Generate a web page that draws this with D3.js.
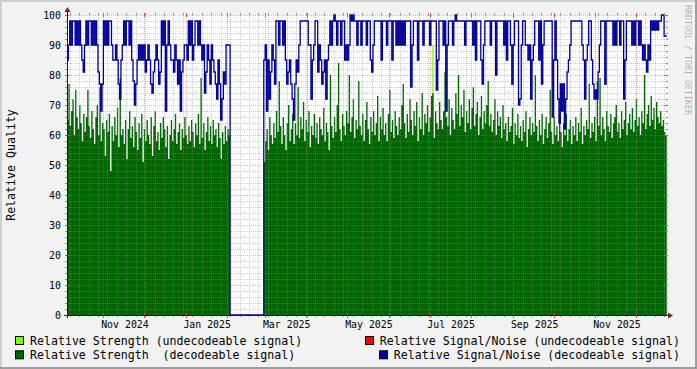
<!DOCTYPE html>
<html>
<head>
<meta charset="utf-8">
<script src="https://cdn.jsdelivr.net/npm/d3@7"></script>
<style>
  body { margin: 0; background: #f2f2f2; }
  svg { display: block; }
  text { font-family: "DejaVu Sans Mono", monospace; }
</style>
</head>
<body>
<svg id="chart" width="697" height="369"></svg>
<script>
// one sample per day, starting at startDay
const startDay = '2024-10-05'
const endTime = '2025-12-23T10:00'

// relative strength (decodeable signal), null = no data
const strength = [
  65,77,63,68,72,60,75,66,62,70, 64,58,67,61,66,75,63,59,68,62,
  57,66,70,60,76,58,64,62,53,65, 61,67,48,63,58,66,60,69,56,79,
  60,62,57,65,52,62,68,59,63,56, 66,61,55,64,59,67,51,62,58,65,
  60,57,66,53,63,68,58,61,55,64, 59,66,62,56,63,52,60,65,58,62,
  67,57,61,64,55,62,59,66,60,57, 63,58,65,61,56,64,60,67,57,79,
  59,64,55,61,66,58,63,57,65,60, 62,56,64,59,52,61,57,63,58,62,
  60,
  null,null,null,null,null,null,null,null,null,null,null,null,null,
  null,null,null,null,null,null,null,null,null,null,null,null,
  51,58,62,55,66,60,57,64,59,68, 61,78,63,57,66,60,55,64,70,58,
  62,67,57,64,60,76,59,66,62,71, 58,65,61,68,56,63,60,67,59,64,
  57,66,62,60,69,58,64,61,55,80, 63,59,66,61,70,84,62,58,67,63,
  60,68,64,80,61,66,72,59,65,62, 78,63,60,67,58,65,71,62,57,66,
  61,68,60,64,73,58,66,62,69,60, 64,58,67,75,61,65,59,68,63,60,
  66,62,70,77,64,59,67,61,72,65, 60,68,63,71,58,66,62,74,60,67,
  64,70,61,66,73,74,59,68,64,62, 71,65,62,68,81,66,63,72,60,69,
  65,62,74,67,80,63,70,66,75,61, 68,64,72,62,69,76,63,67,71,60,
  66,73,62,68,64,70,78,63,67,61, 65,72,60,68,63,66,59,70,62,64,
  58,66,61,63,69,57,64,60,67,59, 63,58,65,61,68,56,62,66,60,64,
  61,80,63,58,65,60,67,57,62,66, 59,64,75,61,57,66,60,63,58,65,
  61,56,64,60,67,58,62,65,57,63, 60,66,58,64,61,69,57,63,60,65,
  62,77,59,64,61,66,58,78,63,79, 60,66,62,58,68,63,61,67,59,64,
  66,70,61,64,59,68,62,65,71,60, 64,67,62,69,61,65,72,63,66,60,
  68,64,80,62,67,70,63,73,65,69, 62,71,66,64,68,63,65,61,60
]

// relative strength (undecodeable signal), only a few days
const undecodeableDays = [271]
const undecodeableValues = [90]

// relative signal/noise (decodeable signal)
const snr = [
  85, 90,98,90,98,98,90,98,90,98,
  90,85,81,90, 98,90,98,98,90,98,90,98,90,
  81,77,68,77, 98,90,98,90,98,98,90,
  85,85,90,85,77,72,85, 90,98,90,98,98,90,98,85,
  78,70,77,85,90,85, 90,85,90,81,85,90,85,
  77,74,81,85,90,85,77,81, 98,90,98,68,90,98,90,85,
  85,81,90,85,77,85,68,81,85,90, 90,85,98,90,98,85,90,98,98,90,98,
  90,85,90,74,81,90,85,77,90,85,81, 77,72,85,77,65,72,81,77, 90,90,90,
  0,0,0,0,0,0,0,0,0,0,0,0,0,0,0,0,0,0,0,0,0,0,0,0,0,
  85,90,68,85,72,81,90, 85,77,98,98,90,98,98,90,98,
  85,77,81,85,77,72,65,77,85,81,90, 98,98,98,98,98,98,90,
  90,72,85,90,98,98,81,90, 85,77,81,85,72,85,90,
  98,90,98,100,98,90,98, 98,90,98,98,85,90,85,90,
  100,98,100,98,98,90,98, 98,90,98,98,98,90,98,98,
  85,81,90,98,98,98,98, 98,85,98,98,98,90,98,98,98,85,98,
  98,90,98,90,98,90,98,90,98,98,98, 98,76,90,98,98,98,85,98,98,98,90,98,
  98,98,98,90,98,98,98, 98,75,85,98, 98,98,90,98,68,90,98,98,98,90,
  98,100,98,98,98, 98,98,98,90,98,98,98, 98,98,90,98,85,98,98,98,
  85,77,90,98,98,98,98,90,98,98, 98,80,98,98,98,98,98,90,
  98,85,98,98,90,77,90,98, 98,98,70,72,90,98,98,90,
  90,85,90,72,85,90,98,98, 98,85,98,77,90,98,98, 98,98,98,98,66,85,98,
  85,72,64,77,68,77,62,72,81,85,90, 98,98,98,98,98,98,98,
  98,90,85,72,85,90,98,98, 85,77,72,75,72,81,90,
  98,98,98,77,98,98,98,98, 98,90,98,90,98,98,90, 98,98,72,85,98,98,98,
  98,90,98,90,98,98,90,98, 90,85,90,85,81,90,85,
  98,95,98,95,98,95,98,98, 100,100,93,93
]

const yTicks = [0, 10, 20, 30, 40, 50, 60, 70, 80, 90, 100]

const legendLeft = ['Relative Strength (undecodeable signal)', 'Relative Strength  (decodeable signal)']
const legendRight = ['Relative Signal/Noise (undecodeable signal)', 'Relative Signal/Noise (decodeable signal)']

let svg = d3.select('#chart')
let width = 697
let height = 369
let x0 = 67, x1 = 666, y0 = 315, y1 = 15

let t0 = d3.utcParse('%Y-%m-%d')(startDay)
let tEnd = d3.utcParse('%Y-%m-%dT%H:%M')(endTime)

let x = d3.scaleUtc().domain([t0, tEnd]).range([x0, x1])
let y = d3.scaleLinear().domain([0, 100]).range([y0, y1])

// each sample covers one whole day -> two points per sample gives the steps
let toSteps = (values) => values.flatMap((v, i) => [
  { date: d3.utcDay.offset(t0, i), value: v },
  { date: d3.utcDay.offset(t0, i + 1), value: v }
])

let badStrength = strength.map(() => null)
undecodeableDays.forEach((d, i) => { badStrength[d] = undecodeableValues[i] })

// background + frame shading
svg.append('rect').attr('width', width).attr('height', height).attr('fill', '#f2f2f2')
svg.append('path').attr('d', `M0,0H${width}V2H2V${height}H0Z`).attr('fill', '#cfcfcf')
svg.append('path').attr('d', `M${width},${height}H0V${height - 2}H${width - 2}V0H${width}Z`).attr('fill', '#9e9e9e')

svg.append('rect')
  .attr('x', x0).attr('y', y1)
  .attr('width', x1 - x0).attr('height', y0 - y1)
  .attr('fill', '#ffffff')

let area = d3.area()
  .defined(d => d.value != null)
  .x(d => x(d.date))
  .y0(y(0))
  .y1(d => y(d.value))

svg.append('path')
  .datum(toSteps(badStrength))
  .attr('d', area)
  .attr('fill', '#80ff00')

svg.append('path')
  .datum(toSteps(strength))
  .attr('d', area)
  .attr('fill', '#006600')

// grid
let grid = svg.append('g')
let weeks = d3.utcMonday.range(t0, tEnd)
let months = d3.utcMonth.range(t0, tEnd)
let px = (v) => Math.round(v) + 0.5

grid.selectAll('.vminor')
  .data(weeks)
  .enter()
  .append('line')
  .attr('x1', d => px(x(d))).attr('x2', d => px(x(d)))
  .attr('y1', y1).attr('y2', y0)
  .attr('stroke', 'rgba(143,143,143,0.45)')
  .attr('stroke-dasharray', '1,1')

grid.selectAll('.hminor')
  .data(y.ticks(50).filter(v => v % 10 != 0))
  .enter()
  .append('line')
  .attr('x1', x0).attr('x2', x1)
  .attr('y1', d => px(y(d))).attr('y2', d => px(y(d)))
  .attr('stroke', 'rgba(143,143,143,0.45)')
  .attr('stroke-dasharray', '1,1')

grid.selectAll('.vmajor')
  .data(months)
  .enter()
  .append('line')
  .attr('x1', d => px(x(d))).attr('x2', d => px(x(d)))
  .attr('y1', y1).attr('y2', y0)
  .attr('stroke', 'rgba(222,80,80,0.45)')
  .attr('stroke-dasharray', '1,1')

grid.selectAll('.hmajor')
  .data(yTicks.filter(v => v > 0))
  .enter()
  .append('line')
  .attr('x1', x0).attr('x2', x1)
  .attr('y1', d => px(y(d))).attr('y2', d => px(y(d)))
  .attr('stroke', 'rgba(222,80,80,0.45)')
  .attr('stroke-dasharray', '1,1')

// signal / noise line
let line = d3.line()
  .x(d => x(d.date))
  .y(d => y(d.value))

svg.append('path')
  .datum(toSteps(snr))
  .attr('d', line)
  .attr('fill', 'none')
  .attr('stroke', '#000099')
  .attr('stroke-width', 1.3)

// tick marks
let ticks = svg.append('g')
weeks.forEach((d) => {
  let xx = px(x(d))
  ticks.append('line').attr('x1', xx).attr('x2', xx).attr('y1', y0).attr('y2', y0 + 2).attr('stroke', '#8f8f8f')
  ticks.append('line').attr('x1', xx).attr('x2', xx).attr('y1', y1 - 2).attr('y2', y1).attr('stroke', '#8f8f8f')
})
months.forEach((d) => {
  let xx = px(x(d))
  ticks.append('line').attr('x1', xx).attr('x2', xx).attr('y1', y0 - 2).attr('y2', y0 + 3).attr('stroke', '#de5050')
  ticks.append('line').attr('x1', xx).attr('x2', xx).attr('y1', y1 - 2).attr('y2', y1 + 2).attr('stroke', '#de5050')
})
y.ticks(50).forEach((v) => {
  let yy = px(y(v))
  let major = v % 10 == 0
  ticks.append('line').attr('x1', x0 - 2).attr('x2', major ? x0 + 2 : x0).attr('y1', yy).attr('y2', yy)
    .attr('stroke', major ? '#de5050' : '#8f8f8f')
  ticks.append('line').attr('x1', major ? x1 - 2 : x1).attr('x2', x1 + 2).attr('y1', yy).attr('y2', yy)
    .attr('stroke', major ? '#de5050' : '#8f8f8f')
})

// axes with arrows
svg.append('line')
  .attr('x1', x0 - 3).attr('x2', x1 + 4)
  .attr('y1', y0 + 0.5).attr('y2', y0 + 0.5)
  .attr('stroke', '#1f1f1f')
svg.append('line')
  .attr('x1', x0 + 0.5).attr('x2', x0 + 0.5)
  .attr('y1', y0 + 3).attr('y2', y1 - 4)
  .attr('stroke', '#1f1f1f')
svg.append('path')
  .attr('d', `M${x1 + 2},${y0 - 2.5}L${x1 + 7},${y0 + 0.5}L${x1 + 2},${y0 + 3.5}Z`)
  .attr('fill', '#801f1f')
svg.append('path')
  .attr('d', `M${x0 - 2.5},${y1 - 3}L${x0 + 0.5},${y1 - 8}L${x0 + 3.5},${y1 - 3}Z`)
  .attr('fill', '#801f1f')

// y labels
svg.append('g')
  .selectAll('text')
  .data(yTicks)
  .enter()
  .append('text')
  .attr('x', 61)
  .attr('y', d => y(d) + 4)
  .attr('text-anchor', 'end')
  .attr('font-size', '9.9px')
  .text(d => d)

// x labels, centred in the middle of their month
let labelMonths = d3.utcMonth.every(2).range(d3.utcMonth.floor(t0), tEnd)
  .filter(d => x(d3.utcDay.offset(d, 16)) > x0 && x(d3.utcDay.offset(d, 16)) < x1)
svg.append('g')
  .selectAll('text')
  .data(labelMonths)
  .enter()
  .append('text')
  .attr('x', d => x(d3.utcDay.offset(d, 16)))
  .attr('y', 327.5)
  .attr('text-anchor', 'middle')
  .attr('font-size', '9.9px')
  .text(d => d3.utcFormat('%b %Y')(d))

// axis title
svg.append('text')
  .attr('transform', 'translate(15,165) rotate(-90)')
  .attr('text-anchor', 'middle')
  .attr('font-size', '11.6px')
  .text('Relative Quality')

// watermark
svg.append('text')
  .attr('transform', 'translate(685,5) rotate(90)')
  .attr('font-size', '8.3px')
  .attr('fill', '#000')
  .attr('fill-opacity', 0.3)
  .text('RRDTOOL / TOBI OETIKER')

// legend
let legendColors = ['#80ff00', '#006600', '#ff0000', '#000099']
let legend = svg.append('g').attr('font-size', '11.6px')
legendLeft.forEach((label, i) => {
  let base = 345 + i * 14.3
  legend.append('rect')
    .attr('x', 15.5).attr('y', base - 8.5)
    .attr('width', 8).attr('height', 8)
    .attr('fill', legendColors[i]).attr('stroke', '#000')
  legend.append('text')
    .attr('x', 30).attr('y', base)
    .style('white-space', 'pre')
    .text(label)
})
legendRight.forEach((label, i) => {
  let base = 345 + i * 14.3
  let t = legend.append('text')
    .attr('x', 680).attr('y', base)
    .attr('text-anchor', 'end')
    .style('white-space', 'pre')
    .text(label)
  let left = 680 - t.node().getComputedTextLength()
  legend.append('rect')
    .attr('x', Math.round(left - 15) + 0.5).attr('y', base - 8.5)
    .attr('width', 8).attr('height', 8)
    .attr('fill', legendColors[i + 2]).attr('stroke', '#000')
})
</script>
</body>
</html>
